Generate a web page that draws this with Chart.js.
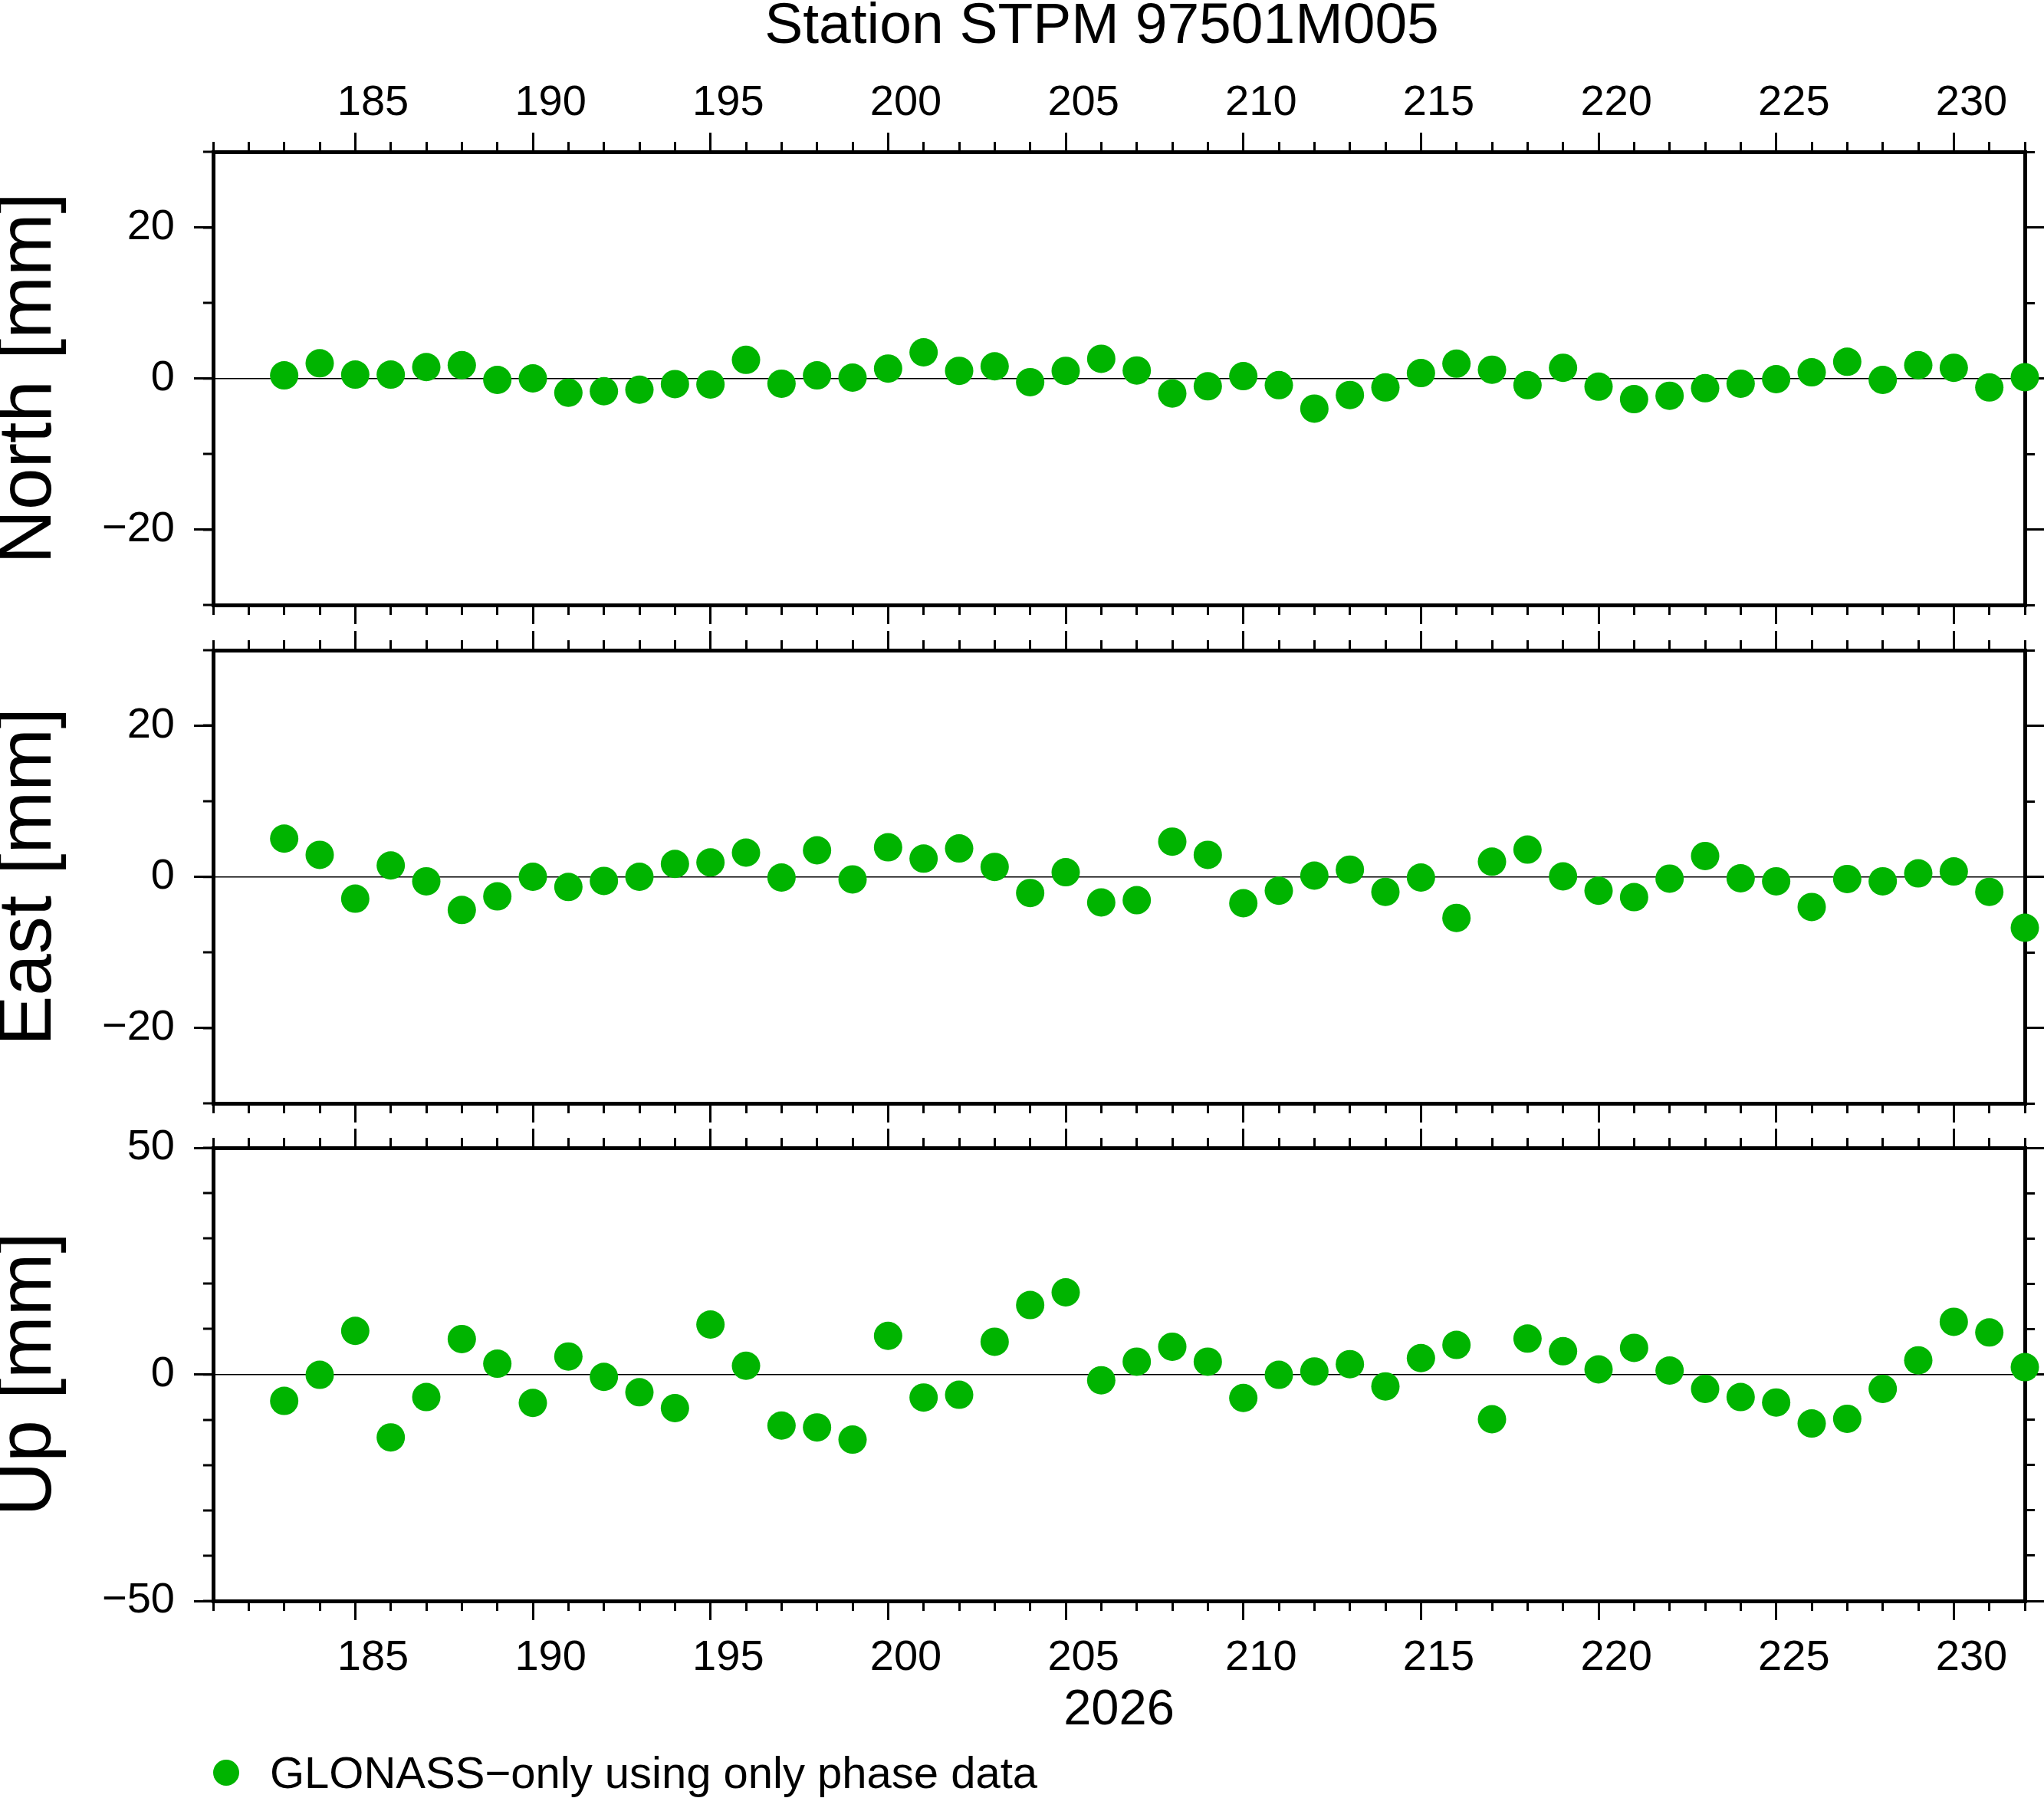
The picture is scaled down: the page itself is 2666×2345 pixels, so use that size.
<!DOCTYPE html>
<html>
<head>
<meta charset="utf-8">
<title>Station STPM 97501M005</title>
<script src="https://cdn.jsdelivr.net/npm/chart.js@4.4.1/dist/chart.umd.min.js"></script>
<style>
  html, body { margin: 0; padding: 0; background: #fff; }
  body {
    position: relative; width: 2666px; height: 2345px; overflow: hidden;
    font-family: 'Liberation Sans', Arial, Helvetica, sans-serif; color: #000;
  }
  canvas { position: absolute; left: 0; }
  #title {
    position: absolute; top: -7px; left: 1437px; transform: translateX(-50%);
    font-size: 75px; line-height: 75px; white-space: nowrap;
  }
  #legend { position: absolute; left: 278px; top: 2283px; font-size: 58px; line-height: 58px; white-space: nowrap; }
  #legend .dot { position: absolute; left: 0; top: 12px; width: 34px; height: 34px; border-radius: 50%; background: #00b400; }
  #legend .label { position: absolute; left: 74px; top: 0; }
</style>
</head>
<body>
<div id="title">Station STPM 97501M005</div>
<canvas id="north" width="2666" height="818" style="top:0px"></canvas>
<canvas id="east" width="2666" height="650" style="top:818px"></canvas>
<canvas id="up" width="2666" height="877" style="top:1468px"></canvas>
<div id="legend"><span class="dot"></span><span class="label">GLONASS&minus;only using only phase data</span></div>

<script>
// Day of year 2026
const days = [
  183, 184, 185, 186, 187, 188, 189, 190, 191, 192,
  193, 194, 195, 196, 197, 198, 199, 200, 201, 202,
  203, 204, 205, 206, 207, 208, 209, 210, 211, 212,
  213, 214, 215, 216, 217, 218, 219, 220, 221, 222,
  223, 224, 225, 226, 227, 228, 229, 230, 231, 232,
];

// Residuals in mm
const north = [
  0.4, 2.0, 0.5, 0.5, 1.5, 1.75, -0.2, 0.0, -1.9, -1.7,
  -1.5, -0.75, -0.8, 2.45, -0.7, 0.4, 0.1, 1.3, 3.45, 1.0,
  1.6, -0.5, 1.0, 2.6, 1.05, -2.0, -1.05, 0.3, -0.9, -4.0,
  -2.2, -1.2, 0.7, 1.95, 1.15, -0.9, 1.4, -1.1, -2.75, -2.3,
  -1.3, -0.7, -0.1, 0.8, 2.2, -0.2, 1.75, 1.4, -1.2, 0.15,
];
const east = [
  5.05, 2.9, -2.9, 1.5, -0.6, -4.4, -2.6, 0.0, -1.35, -0.55,
  0.0, 1.7, 1.9, 3.2, -0.1, 3.5, -0.35, 3.9, 2.4, 3.75,
  1.3, -2.15, 0.6, -3.4, -3.1, 4.65, 2.9, -3.5, -1.85, 0.15,
  0.95, -2.0, -0.1, -5.45, 2.0, 3.6, 0.05, -1.85, -2.7, -0.25,
  2.75, -0.2, -0.6, -4.0, -0.3, -0.6, 0.45, 0.7, -2.0, -6.75,
];
const up = [
  -5.85, -0.1, 9.6, -13.9, -5.0, 7.8, 2.35, -6.3, 3.95, -0.55,
  -3.95, -7.45, 11.0, 1.9, -11.3, -11.7, -14.4, 8.5, -5.1, -4.5,
  7.2, 15.3, 18.1, -1.3, 2.8, 6.1, 2.8, -5.2, -0.1, 0.65,
  2.25, -2.65, 3.6, 6.5, -9.9, 7.9, 5.1, 1.1, 5.85, 0.85,
  -3.2, -5.0, -6.2, -10.85, -9.8, -3.2, 3.1, 11.6, 9.25, 1.6,
];

// Axis ranges and ticks
const dayRange = [181, 232];
const dayMinorStep = 1;
const dayLabelStep = 5;
const yearLabel = "2026";
const panelNames = ["North [mm]", "East [mm]", "Up [mm]"];
const yRanges = [[-30, 30], [-30, 30], [-50, 50]];
const yLabelTicks = [[-20, 0, 20], [-20, 0, 20], [-50, 0, 50]];
const yMinorSteps = [10, 10, 10];

const FONT = "'Liberation Sans', Arial, Helvetica, sans-serif";
const GREEN = "#00b400";
const FRAME = 5;     // frame line width
const MAJOR = 25;    // major tick length
const MINOR = 13;    // minor tick length
const TICK_W = 3;
const LEFT = 278;    // room left of the frame
const RIGHT = 25;    // room right of the frame
const halfDay = (2666 - LEFT - RIGHT) / (dayRange[1] - dayRange[0]) / 2;

// force an axis box to a fixed size so the frames line up across panels
function fixSize(size) {
  return (scale) => {
    if (scale.isHorizontal()) scale.height = size;
    else scale.width = size;
    scale.paddingTop = scale.paddingBottom = scale.paddingLeft = scale.paddingRight = 0;
  };
}

function axis(position, weight, step, range, tickLen, size) {
  return {
    type: "linear",
    position: position,
    weight: weight,
    min: range[0],
    max: range[1],
    border: { display: true, width: FRAME, color: "#000" },
    grid: {
      drawOnChartArea: false,
      lineWidth: FRAME,
      tickLength: tickLen,
      tickWidth: TICK_W,
      tickColor: "#000",
    },
    ticks: { display: false, stepSize: step, includeBounds: false, autoSkip: false, maxRotation: 0 },
    afterFit: fixSize(size),
  };
}

const tickFont = { family: FONT, size: 56 };

function makePanel(canvasId, values, i, topSize, bottomSize, topLabels, bottomLabels) {
  const yr = yRanges[i];
  const useTicks = (scale) => {
    scale.ticks = yLabelTicks[i].map((v) => ({ value: v }));
  };
  const scales = {
    x: axis("bottom", 0, dayMinorStep, dayRange, MINOR, 0),
    xb: axis("bottom", 1, dayLabelStep, dayRange, MAJOR, bottomSize),
    xt: axis("top", 0, dayMinorStep, dayRange, MINOR, 0),
    xtm: axis("top", 1, dayLabelStep, dayRange, MAJOR, topSize),
    y: axis("left", 0, yMinorSteps[i], yr, MINOR, 0),
    yl: axis("left", 1, yMinorSteps[i], yr, MAJOR, LEFT),
    yr: axis("right", 0, yMinorSteps[i], yr, MINOR, 0),
    yrm: axis("right", 1, yMinorSteps[i], yr, MAJOR, RIGHT),
  };
  scales.yl.afterBuildTicks = useTicks;
  scales.yrm.afterBuildTicks = useTicks;

  // thin zero line across the plot
  scales.y.grid.drawOnChartArea = true;
  scales.y.grid.color = "#000";
  scales.y.grid.lineWidth = (c) => (c.tick && c.tick.value === 0 ? 1.5 : 0);

  scales.yl.ticks = Object.assign(scales.yl.ticks, {
    display: true,
    padding: 25,
    color: "#000",
    font: tickFont,
    callback: (v) => String(v).replace("-", "\u2212"),
  });
  scales.yl.title = {
    display: true,
    text: panelNames[i],
    color: "#000",
    font: { family: FONT, size: 98, lineHeight: 0.8 },
    padding: 0,
  };

  if (topLabels) {
    scales.xtm.ticks = Object.assign(scales.xtm.ticks, {
      display: true, padding: 5, color: "#000", font: tickFont, labelOffset: halfDay,
    });
  }
  if (bottomLabels) {
    scales.xb.ticks = Object.assign(scales.xb.ticks, {
      display: true, padding: 16, color: "#000", font: tickFont, labelOffset: halfDay,
    });
    scales.xb.title = {
      display: true,
      text: yearLabel,
      color: "#000",
      font: { family: FONT, size: 65 },
      padding: { top: 0, bottom: 75 },
    };
  }

  return new Chart(document.getElementById(canvasId), {
    type: "scatter",
    data: {
      datasets: [
        {
          label: "GLONASS\u2212only using only phase data",
          data: days.map((d, k) => ({ x: d, y: values[k] })),
          xAxisID: "x",
          yAxisID: "y",
          backgroundColor: GREEN,
          borderWidth: 0,
          pointRadius: 18.5,
          pointHoverRadius: 18.5,
          clip: false,
        },
      ],
    },
    options: {
      responsive: false,
      animation: false,
      events: [],
      layout: { padding: 0 },
      plugins: { legend: { display: false }, tooltip: { enabled: false } },
      scales: scales,
    },
  });
}

makePanel("north", north, 0, 198, 29, true, false);
makePanel("east", east, 1, 30, 29, false, false);
makePanel("up", up, 2, 29, 257, false, true);
</script>
</body>
</html>
